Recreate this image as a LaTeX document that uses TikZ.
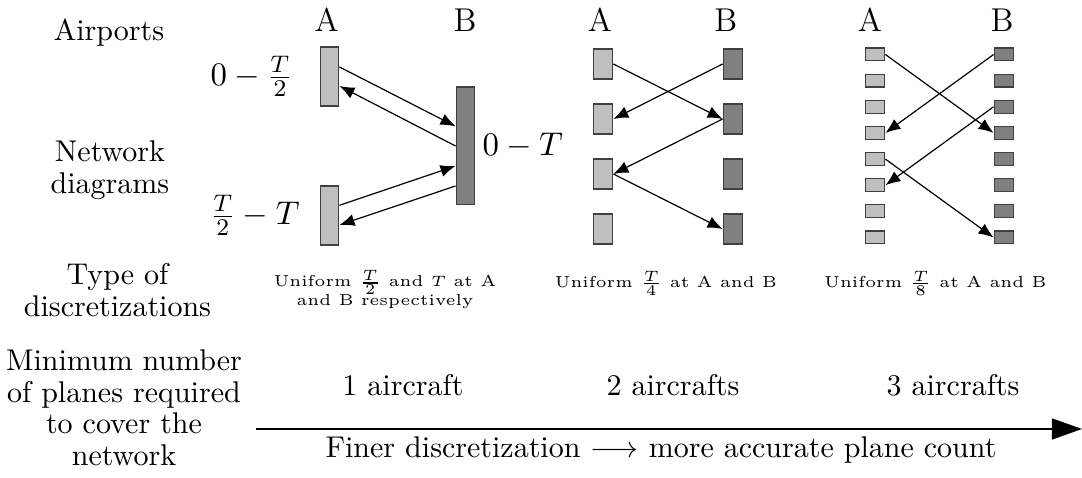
\documentclass[tikz,border=0pt]{standalone}
\usepackage{tikz}
\usetikzlibrary{positioning,arrows.meta,calc}

\begin{document}
\begin{tikzpicture}
    [scale=.11715,>={Latex[length=5pt,width=4pt]},
     every node/.style={font=\fontsize{10}{10.5}\selectfont},
     abox/.style={draw=black!75,fill=lightgray,inner sep=0pt,minimum width=2.3mm},
     bbox/.style={draw=black!75,fill=gray,inner sep=0pt,minimum width=2.3mm},
     airport/.style={font=\fontsize{11}{13}\selectfont},
     caption/.style={align=center,font=\fontsize{5.3}{6.4}\selectfont},
     rowlabel/.style={align=center}]
    \useasboundingbox (0,0) rectangle (108.2,47.8);
    % row labels
    \node[rowlabel] (airports) at (10.9,44.5) {Airports};
    \node[rowlabel] (networks) at (11,30.8) {Network\\diagrams};
    \node[rowlabel] (types) at (11.75,18.8) {Type of\\discretizations};
    \node[rowlabel] (planes) at (12.4,7) {Minimum number\\of planes required\\to cover the\\network};
    % first network
    \node[airport] (la1) at (32.67,45.8) {A};
    \node[airport] (lb1) at (46.5,45.8) {B};
    \node[abox,minimum width=2.2mm,minimum height=6.9mm] (a1) at (32.95,40.15) {};
    \node[abox,minimum width=2.2mm,minimum height=6.9mm] (a2) at (32.95,26.25) {};
    \node[bbox,minimum width=2.2mm,minimum height=13.8mm] (b) at (46.55,33.2) {};
    \node[airport,left=1.9mm of a1] (ta1) {$0-\frac{T}{2}$};
    \node[airport,left=1.1mm of a2] (ta2) {$\frac{T}{2}-T$};
    \node[airport,right=-0.4mm of b] (tb) {$0-T$};
    \draw[->] ($(a1.east)+(0,.95)$) -- ($(b.west)+(0,1.97)$);
    \draw[->] (b.west) -- ($(a1.east)+(0,-.95)$);
    \draw[->] ($(a2.east)+(0,1.02)$) -- ($(b.west)+(0,-2)$);
    \draw[->] ($(b.west)+(0,-4)$) -- ($(a2.east)+(0,-.95)$);
    \node[caption] (cap1) at (38.5,18.8) {Uniform $\frac{T}{2}$ and $T$ at A\\and B respectively};
    % second network
    \node[airport] (la2) at (60,45.8) {A};
    \node[airport] (lb2) at (72.57,45.8) {B};
    \node[abox,minimum height=3.5mm] (c1) at (60.3,41.4) {};
    \node[abox,minimum height=3.5mm] (c2) at (60.3,35.9) {};
    \node[abox,minimum height=3.5mm] (c3) at (60.3,30.4) {};
    \node[abox,minimum height=3.5mm] (c4) at (60.3,24.9) {};
    \node[bbox,minimum height=3.5mm] (d1) at (73.3,41.4) {};
    \node[bbox,minimum height=3.5mm] (d2) at (73.3,35.9) {};
    \node[bbox,minimum height=3.5mm] (d3) at (73.3,30.4) {};
    \node[bbox,minimum height=3.5mm] (d4) at (73.3,24.9) {};
    \draw[->] (c1.east) -- (d2.west);
    \draw[->] (d1.west) -- (c2.east);
    \draw[->] (d2.west) -- (c3.east);
    \draw[->] (c3.east) -- (d4.west);
    \node[caption] (cap2) at (66.6,19.5) {Uniform $\frac{T}{4}$ at A and B};
    % third network
    \node[airport] (la3) at (87,45.8) {A};
    \node[airport] (lb3) at (100.2,45.8) {B};
    \node[abox,minimum height=1.5mm] (e1) at (87.5,42.35) {};
    \node[abox,minimum height=1.5mm] (e2) at (87.5,39.74) {};
    \node[abox,minimum height=1.5mm] (e3) at (87.5,37.12) {};
    \node[abox,minimum height=1.5mm] (e4) at (87.5,34.51) {};
    \node[abox,minimum height=1.5mm] (e5) at (87.5,31.89) {};
    \node[abox,minimum height=1.5mm] (e6) at (87.5,29.28) {};
    \node[abox,minimum height=1.5mm] (e7) at (87.5,26.67) {};
    \node[abox,minimum height=1.5mm] (e8) at (87.5,24.05) {};
    \node[bbox,minimum height=1.5mm] (f1) at (100.4,42.35) {};
    \node[bbox,minimum height=1.5mm] (f2) at (100.4,39.74) {};
    \node[bbox,minimum height=1.5mm] (f3) at (100.4,37.12) {};
    \node[bbox,minimum height=1.5mm] (f4) at (100.4,34.51) {};
    \node[bbox,minimum height=1.5mm] (f5) at (100.4,31.89) {};
    \node[bbox,minimum height=1.5mm] (f6) at (100.4,29.28) {};
    \node[bbox,minimum height=1.5mm] (f7) at (100.4,26.67) {};
    \node[bbox,minimum height=1.5mm] (f8) at (100.4,24.05) {};
    \draw[->] (e1.east) -- (f4.west);
    \draw[->] (f1.west) -- (e4.east);
    \draw[->] (f3.west) -- (e6.east);
    \draw[->] (e5.east) -- (f8.west);
    \node[caption] (cap3) at (93.55,19.5) {Uniform $\frac{T}{8}$ at A and B};
    % plane counts
    \node (n1) at (40.3,9.3) {1 aircraft};
    \node (n2) at (67.3,9.3) {2 aircrafts};
    \node (n3) at (95.3,9.3) {3 aircrafts};
    \coordinate (s) at (25.6,4.9);
    \coordinate (t) at (108.2,4.9);
    \draw[-{Triangle[length=10pt,width=7pt]},line width=0.5pt] (s) -- (t);
    \node (finer) at (66.1,2.8) {Finer discretization $\longrightarrow$ more accurate plane count};
\end{tikzpicture}
\end{document}
